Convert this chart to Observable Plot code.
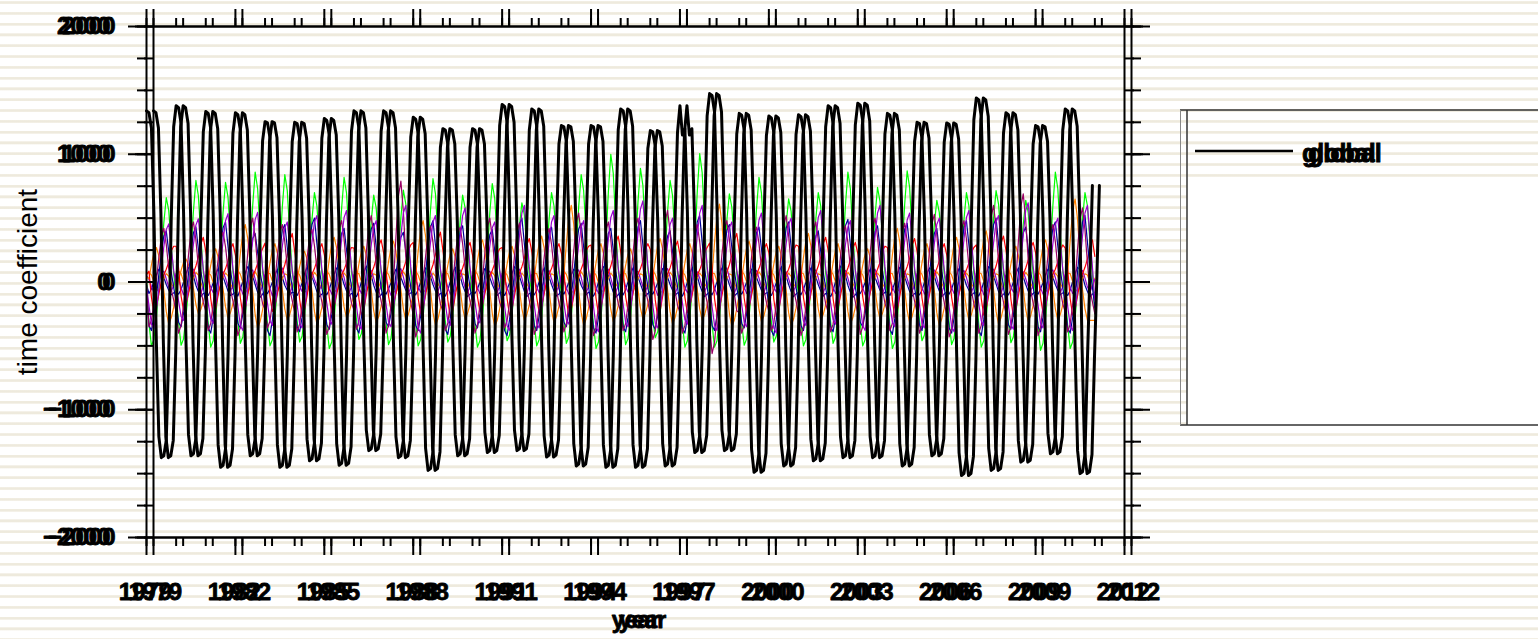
<!DOCTYPE html>
<html><head><meta charset="utf-8">
<script src="https://cdn.jsdelivr.net/npm/d3@7"></script>
<script src="https://cdn.jsdelivr.net/npm/@observablehq/plot@0.6"></script>
<style>
html,body{margin:0;padding:0;}
body{width:1538px;height:639px;overflow:hidden;position:relative;font-family:"Liberation Sans",Arial,sans-serif;
background:repeating-linear-gradient(to bottom,#fff 0px,#fff 1px,#f5f2ea 1px,#eeeadd 2px,#eeeadd 3.2px,#f5f2ea 4px,#fff 4.2px,#fff 10.8px);}
#legend{position:absolute;left:0;top:0;}
#chart{position:absolute;left:0;top:0;}
</style></head><body>
<svg id="legend" width="1538" height="639">
  <rect x="1187" y="177" width="351" height="248" fill="#fff"/>
  <line x1="1180" y1="110" x2="1538" y2="110" stroke="#333" stroke-width="1.5"/>
  <line x1="1180" y1="425" x2="1538" y2="425" stroke="#333" stroke-width="1.5"/>
  <line x1="1180.5" y1="110" x2="1180.5" y2="425" stroke="#888" stroke-width="1"/>
  <line x1="1187" y1="110" x2="1187" y2="425" stroke="#333" stroke-width="1.5"/>
  <line x1="1195" y1="151" x2="1293" y2="151" stroke="#000" stroke-width="2.5"/>
  <text x="1302" y="162" font-size="25" font-weight="bold" stroke="#000" stroke-width="0.8" font-family="Liberation Sans, Arial, sans-serif">global</text>
  <text x="1308" y="162" font-size="25" font-weight="bold" stroke="#000" stroke-width="0.8" font-family="Liberation Sans, Arial, sans-serif">global</text>
</svg>
<div id="chart"></div>
<script>
// ---- tick values ----
const xMajor = [1979,1982,1985,1988,1991,1994,1997,2000,2003,2006,2009,2012];
const xMinor = [1979,1980,1981,1982,1983,1984,1985,1986,1987,1988,1989,1990,1991,1992,1993,1994,1995,1996,1997,1998,1999,2000,2001,2002,2003,2004,2005,2006,2007,2008,2009,2010,2011,2012];
const yMajor = [-2000,-1000,0,1000,2000];
const yMinor = [-2000,-1750,-1500,-1250,-1000,-750,-500,-250,0,250,500,750,1000,1250,1500,1750,2000];

// ---- monthly series, one row per year (Jan..Dec), from Jan 1979 ----
const globalRows = [
[1340,1325,1205,535,-480,-1210,-1375,-1360,-1240,-550,485,1215],
[1380,1365,1240,550,-475,-1195,-1360,-1345,-1225,-545,465,1175],
[1335,1320,1200,535,-510,-1275,-1450,-1435,-1305,-580,465,1165],
[1325,1310,1190,530,-475,-1195,-1360,-1345,-1225,-545,440,1105],
[1255,1245,1130,500,-510,-1275,-1450,-1435,-1305,-580,440,1100],
[1250,1240,1125,500,-490,-1230,-1400,-1385,-1260,-560,450,1125],
[1280,1265,1150,510,-500,-1265,-1435,-1420,-1290,-575,470,1180],
[1340,1325,1205,535,-460,-1160,-1320,-1305,-1190,-530,470,1180],
[1340,1325,1205,535,-480,-1210,-1375,-1360,-1240,-550,450,1135],
[1290,1275,1160,515,-515,-1300,-1475,-1460,-1330,-590,420,1055],
[1200,1190,1080,480,-475,-1195,-1360,-1345,-1225,-545,420,1055],
[1200,1190,1080,480,-465,-1175,-1335,-1320,-1200,-535,485,1225],
[1390,1375,1250,555,-460,-1160,-1320,-1305,-1190,-530,475,1190],
[1355,1340,1220,540,-480,-1205,-1370,-1355,-1235,-550,430,1080],
[1225,1215,1100,490,-505,-1265,-1440,-1425,-1295,-575,430,1080],
[1225,1215,1100,490,-510,-1275,-1450,-1435,-1305,-580,475,1190],
[1355,1340,1220,540,-510,-1275,-1450,-1435,-1305,-580,415,1045],
[1185,1175,1065,475,-505,-1265,-1440,-1425,-1295,-575,485,1170],
[1380,1150,1200,550,-465,-1175,-1335,-1320,-1200,-535,515,1300],
[1475,1460,1330,590,-460,-1160,-1320,-1305,-1190,-530,460,1160],
[1320,1305,1190,530,-520,-1310,-1490,-1475,-1340,-595,455,1145],
[1300,1285,1170,520,-505,-1265,-1440,-1425,-1295,-575,460,1155],
[1310,1295,1180,525,-490,-1230,-1400,-1385,-1260,-560,485,1215],
[1380,1365,1240,550,-480,-1210,-1375,-1360,-1240,-550,490,1230],
[1400,1385,1260,560,-480,-1210,-1375,-1360,-1240,-550,460,1160],
[1320,1305,1190,530,-505,-1265,-1440,-1425,-1295,-575,440,1100],
[1250,1240,1125,500,-475,-1195,-1360,-1345,-1225,-545,435,1095],
[1245,1235,1120,500,-530,-1335,-1515,-1500,-1365,-605,505,1270],
[1440,1425,1295,575,-515,-1300,-1475,-1460,-1330,-590,465,1165],
[1325,1310,1190,530,-495,-1240,-1410,-1395,-1270,-565,430,1080],
[1225,1215,1100,490,-470,-1185,-1345,-1330,-1210,-540,475,1190],
[1355,1340,1220,540,-525,-1320,-1500,-1485,-1350,-600,60,755]
];

const greenRows = [
[30,-325,-500,-450,-275,-50,200,460,660,560,295,65],
[-100,-320,-495,-445,-270,-50,240,555,795,675,360,80],
[-100,-330,-510,-460,-280,-50,235,545,780,665,350,80],
[-95,-310,-480,-430,-265,-50,260,600,860,730,385,85],
[-100,-325,-500,-450,-275,-50,250,590,840,715,380,85],
[-95,-305,-470,-425,-260,-45,210,490,700,595,315,70],
[-105,-340,-520,-470,-285,-50,245,575,820,695,370,80],
[-90,-290,-450,-405,-250,-45,205,475,680,580,305,70],
[-100,-320,-490,-440,-270,-50,215,505,720,610,325,70],
[-100,-325,-500,-450,-275,-50,245,565,810,690,365,80],
[-95,-305,-470,-425,-260,-45,205,475,680,580,305,70],
[-100,-330,-510,-460,-280,-50,230,540,770,655,345,75],
[-90,-300,-460,-415,-255,-45,185,435,620,525,280,60],
[-100,-325,-500,-450,-275,-50,210,490,700,595,315,70],
[-95,-310,-480,-430,-265,-50,250,590,840,715,380,85],
[-105,-340,-520,-470,-285,-50,300,700,1000,850,450,100],
[-100,-320,-490,-440,-270,-50,265,625,890,755,400,90],
[-85,-285,-435,-390,-240,-45,240,555,795,675,360,80],
[-100,-330,-510,-460,-280,-50,300,705,1005,855,450,100],
[-100,-330,-510,-460,-280,-50,205,485,690,585,310,70],
[-100,-320,-495,-445,-270,-50,245,575,820,695,370,80],
[-95,-305,-470,-425,-260,-45,195,455,650,555,290,65],
[-100,-325,-500,-450,-275,-50,210,490,700,595,315,70],
[-95,-310,-480,-430,-265,-50,260,600,860,730,385,85],
[-100,-325,-500,-450,-275,-50,220,520,740,630,335,75],
[-105,-340,-520,-470,-285,-50,260,610,870,740,390,85],
[-90,-300,-460,-415,-255,-45,190,450,640,545,290,65],
[-100,-320,-490,-440,-270,-50,210,490,700,595,315,70],
[-100,-330,-510,-460,-280,-50,215,500,715,610,320,70],
[-95,-310,-475,-430,-260,-50,190,450,640,545,290,65],
[-105,-350,-535,-480,-295,-55,260,600,860,730,385,85],
[-105,-340,-520,-470,-285,-50,210,490,700,595,315,70]
];
const greenEnd = -250;

const violetRows = [
[-35,-185,-330,-365,-220,-55,115,275,410,455,275,90],
[-30,-150,-270,-300,-180,-45,125,295,445,495,295,100],
[-35,-165,-290,-325,-195,-50,135,320,480,535,320,105],
[-40,-190,-340,-380,-230,-55,135,325,490,545,325,110],
[-35,-170,-305,-340,-205,-50,120,280,425,470,280,95],
[-35,-180,-325,-360,-215,-55,130,310,470,520,310,105],
[-35,-165,-295,-330,-200,-50,140,335,505,560,335,110],
[-35,-185,-335,-370,-220,-55,120,290,430,480,290,95],
[-35,-175,-315,-350,-210,-55,150,360,540,600,360,120],
[-40,-200,-360,-400,-240,-60,130,310,470,520,310,105],
[-35,-170,-305,-340,-205,-50,145,350,520,580,350,115],
[-30,-160,-290,-320,-190,-50,120,280,425,470,280,95],
[-40,-190,-340,-380,-230,-55,150,360,540,600,360,120],
[-35,-180,-325,-360,-215,-55,130,310,470,520,310,105],
[-35,-165,-295,-330,-200,-50,120,290,430,480,290,95],
[-40,-195,-350,-390,-235,-60,140,335,505,560,335,110],
[-35,-175,-315,-350,-210,-55,160,380,570,635,380,125],
[-35,-180,-325,-360,-215,-55,125,300,450,500,300,100],
[-35,-165,-295,-330,-200,-50,150,360,540,600,360,120],
[-40,-190,-340,-380,-230,-55,120,280,425,470,280,95],
[-35,-175,-315,-350,-210,-55,135,325,485,540,325,110],
[-40,-200,-360,-400,-240,-60,125,300,450,500,300,100],
[-35,-170,-305,-340,-205,-50,140,335,505,560,335,110],
[-35,-165,-295,-330,-200,-50,120,290,430,480,290,95],
[-40,-190,-340,-380,-230,-55,150,360,540,600,360,120],
[-35,-175,-315,-350,-210,-55,135,325,485,540,325,110],
[-35,-180,-325,-360,-215,-55,125,300,450,500,300,100],
[-40,-195,-350,-390,-235,-60,140,335,505,560,335,110],
[-35,-170,-305,-340,-205,-50,130,310,470,520,310,105],
[-35,-185,-335,-370,-220,-55,155,370,560,620,370,125],
[-35,-180,-325,-360,-215,-55,125,300,450,500,300,100],
[-40,-190,-340,-380,-230,-55,150,360,540,600,360,120]
];
const violetEnd = -150;

const navyRows = [
[-60,-340,-380,-265,-115,60,220,360,400,240,80,-40],
[-160,-315,-350,-245,-105,65,235,385,430,260,85,-35],
[-180,-360,-400,-280,-120,70,260,425,470,280,95,-40],
[-160,-325,-360,-250,-110,55,210,340,380,230,75,-35],
[-190,-380,-420,-295,-125,70,250,405,450,270,90,-40],
[-175,-350,-390,-275,-115,75,275,450,500,300,100,-40],
[-165,-335,-370,-260,-110,65,230,380,420,250,85,-35],
[-180,-360,-400,-280,-120,70,255,415,460,275,90,-40],
[-160,-315,-350,-245,-105,60,215,350,390,235,80,-35],
[-170,-340,-380,-265,-115,70,265,430,480,290,95,-40],
[-185,-370,-410,-285,-125,65,240,395,440,265,90,-40],
[-160,-325,-360,-250,-110,60,225,370,410,245,80,-35],
[-190,-380,-420,-295,-125,75,275,450,500,300,100,-40],
[-170,-340,-380,-265,-115,65,235,385,430,260,85,-40],
[-160,-315,-350,-245,-105,70,255,415,460,275,90,-35],
[-180,-360,-400,-280,-120,65,230,380,420,250,85,-40],
[-175,-350,-390,-275,-115,70,265,430,480,290,95,-40],
[-165,-335,-370,-260,-110,60,220,360,400,240,80,-35],
[-180,-360,-400,-280,-120,80,285,470,520,310,105,-40],
[-170,-340,-380,-265,-115,70,250,405,450,270,90,-40],
[-160,-325,-360,-250,-110,65,235,385,430,260,85,-35],
[-190,-380,-420,-295,-125,70,260,425,470,280,95,-40],
[-170,-340,-380,-265,-115,60,220,360,400,240,80,-40],
[-175,-350,-390,-275,-115,75,270,440,490,295,100,-40],
[-160,-315,-350,-245,-105,65,240,395,440,265,90,-35],
[-185,-370,-410,-285,-125,70,255,415,460,275,90,-40],
[-170,-340,-380,-265,-115,65,230,380,420,250,85,-40],
[-180,-360,-400,-280,-120,70,265,430,480,290,95,-40],
[-190,-380,-420,-295,-125,75,275,450,500,300,100,-40],
[-165,-335,-370,-260,-110,65,235,385,430,260,85,-35],
[-175,-350,-390,-275,-115,70,260,425,470,280,95,-40],
[-180,-360,-400,-280,-120,80,285,470,520,310,105,-40]
];
const navyEnd = -200;

const magentaRows = [
[-20,-350,-300,-160,10,190,355,420,295,105,-55,-140],
[-240,-400,-340,-180,-10,210,400,470,330,120,-60,-160],
[-230,-380,-325,-170,15,175,330,390,275,100,-55,-150],
[-250,-420,-355,-190,-5,225,425,500,350,125,-65,-170],
[-215,-360,-305,-160,10,205,385,450,315,115,-55,-145],
[-235,-390,-330,-175,-15,185,350,410,285,105,-60,-155],
[-245,-410,-350,-185,5,215,410,480,335,120,-60,-165],
[-220,-370,-315,-165,10,235,440,520,365,130,-55,-150],
[-240,-400,-340,-180,-10,355,670,790,555,200,-60,-160],
[-260,-430,-365,-195,15,200,375,440,310,110,-65,-170],
[-230,-380,-325,-170,-5,195,365,430,300,110,-55,-150],
[-240,-400,-340,-180,10,225,425,500,350,125,-60,-160],
[-215,-360,-305,-160,-10,205,390,460,320,115,-55,-145],
[-245,-410,-350,-185,5,190,355,420,295,105,-60,-165],
[-235,-390,-330,-175,15,245,460,540,380,135,-60,-155],
[-250,-420,-355,-190,-5,210,400,470,330,120,-65,-170],
[-230,-380,-325,-170,10,225,425,500,350,125,-55,-150],
[-270,-450,-385,-205,-10,250,475,560,390,140,-70,-180],
[-240,-400,-340,-180,5,205,385,450,315,115,-60,-160],
[-335,-560,-475,-250,-15,215,410,480,335,120,-85,-225],
[-240,-400,-340,-180,10,195,365,430,300,110,-60,-160],
[-230,-380,-325,-170,-5,235,440,520,365,130,-55,-150],
[-250,-420,-355,-190,10,210,400,470,330,120,-65,-170],
[-235,-390,-330,-175,-10,200,375,440,310,110,-60,-155],
[-245,-410,-350,-185,5,225,425,500,350,125,-60,-165],
[-230,-380,-325,-170,15,205,390,460,320,115,-55,-150],
[-240,-400,-340,-180,-5,240,450,530,370,135,-60,-160],
[-260,-430,-365,-195,10,215,410,480,335,120,-65,-170],
[-240,-400,-340,-180,-10,270,510,600,420,150,-60,-160],
[-245,-410,-350,-185,5,310,585,690,485,175,-60,-165],
[-250,-420,-355,-190,10,205,385,450,315,115,-65,-170],
[-235,-390,-330,-175,-5,260,495,580,405,145,-60,-155]
];
const magentaEnd = -250;

const redRows = [
[60,85,-120,-240,-190,-95,5,55,100,155,240,280],
[280,105,-110,-220,-175,-90,10,70,125,195,300,350],
[240,90,-130,-260,-210,-105,-10,60,105,165,255,300],
[210,80,-125,-250,-200,-100,15,50,90,145,220,260],
[305,115,-115,-230,-185,-90,-5,75,135,210,325,380],
[240,90,-135,-270,-215,-110,5,60,105,165,255,300],
[215,80,-120,-240,-190,-95,-10,55,95,150,230,270],
[265,100,-130,-260,-210,-105,10,65,115,180,280,330],
[230,85,-110,-220,-175,-90,-5,60,100,160,245,290],
[310,115,-125,-250,-200,-100,10,80,135,215,330,390],
[250,95,-140,-280,-225,-110,-5,60,110,170,265,310],
[210,80,-115,-230,-185,-90,10,50,90,145,220,260],
[270,100,-130,-260,-210,-105,-5,70,120,185,290,340],
[240,90,-120,-240,-190,-95,10,60,105,165,255,300],
[225,85,-135,-270,-215,-110,-10,55,100,155,240,280],
[290,110,-125,-250,-200,-100,5,70,125,200,305,360],
[240,90,-115,-230,-185,-90,10,60,105,165,255,300],
[255,95,-140,-280,-225,-110,-5,65,110,175,270,320],
[215,80,-120,-240,-190,-95,10,55,95,150,230,270],
[305,115,-130,-260,-210,-105,-10,75,135,210,325,380],
[240,90,-125,-250,-200,-100,5,60,105,165,255,300],
[230,85,-135,-270,-215,-110,-5,60,100,160,245,290],
[280,105,-120,-240,-190,-95,10,70,125,195,300,350],
[250,95,-130,-260,-210,-105,-10,60,110,170,265,310],
[225,85,-115,-230,-185,-90,5,55,100,155,240,280],
[270,100,-140,-280,-225,-110,-5,70,120,185,290,340],
[240,90,-125,-250,-200,-100,10,60,105,165,255,300],
[215,80,-120,-240,-190,-95,-10,55,95,150,230,270],
[290,110,-130,-260,-210,-105,5,70,125,200,305,360],
[250,95,-135,-270,-215,-110,-5,60,110,170,265,310],
[230,85,-120,-240,-190,-95,10,60,100,160,245,290],
[265,100,-130,-260,-210,-105,-5,65,115,180,280,330]
];
const redEnd = 200;

const orangeRows = [
[40,25,135,230,270,205,80,-65,-230,-330,-280,-200],
[-75,20,90,155,180,135,55,-50,-175,-250,-215,-150],
[-85,25,130,220,260,195,80,-55,-195,-280,-240,-170],
[-110,45,225,385,450,340,135,-75,-255,-365,-310,-220],
[-90,30,150,255,300,225,90,-60,-210,-300,-255,-180],
[-100,25,120,205,240,180,70,-65,-230,-330,-280,-200],
[-85,35,175,300,350,265,105,-55,-195,-280,-240,-170],
[-95,30,140,240,280,210,85,-65,-225,-320,-270,-190],
[-90,30,160,270,320,240,95,-60,-210,-300,-255,-180],
[-100,50,240,410,480,360,145,-70,-240,-340,-290,-205],
[-85,25,130,220,260,195,80,-60,-205,-290,-245,-175],
[-105,35,165,280,330,250,100,-70,-245,-350,-300,-210],
[-90,30,140,240,280,210,85,-60,-210,-300,-255,-180],
[-95,35,180,305,360,270,110,-65,-225,-320,-270,-190],
[-100,60,300,510,600,450,180,-70,-240,-340,-290,-205],
[-95,30,150,255,300,225,90,-60,-215,-310,-265,-185],
[-85,25,130,220,260,195,80,-60,-205,-290,-245,-175],
[-100,35,170,290,340,255,100,-65,-230,-330,-280,-200],
[-90,30,150,255,300,225,90,-60,-210,-300,-255,-180],
[-105,60,305,520,610,460,185,-70,-245,-350,-300,-210],
[-95,30,160,270,320,240,95,-60,-215,-310,-265,-185],
[-100,30,140,240,280,210,85,-70,-240,-340,-290,-205],
[-90,40,190,325,380,285,115,-60,-210,-300,-255,-180],
[-100,30,150,255,300,225,90,-65,-230,-330,-280,-200],
[-85,25,130,220,260,195,80,-60,-205,-290,-245,-175],
[-95,40,210,355,420,315,125,-65,-225,-320,-270,-190],
[-100,30,150,255,300,225,90,-70,-240,-340,-290,-205],
[-90,35,175,300,350,265,105,-60,-210,-300,-255,-180],
[-100,40,200,340,400,300,120,-65,-230,-330,-280,-200],
[-95,30,140,240,280,210,85,-60,-215,-310,-265,-185],
[-90,35,165,280,330,250,100,-60,-210,-300,-255,-180],
[-90,65,325,555,650,490,195,-60,-210,-300,-300,-300]
];
const orangeEnd = -300;

const violetSmallRows = [
[50,20,-35,-80,-45,15,65,85,25,-40,-75,-25],
[70,25,-45,-100,-55,5,80,100,35,-45,-90,-35],
[55,15,-40,-85,-50,10,60,80,30,-35,-70,-30],
[65,30,-35,-95,-60,15,75,95,25,-45,-85,-25],
[60,20,-50,-110,-55,0,70,110,40,-40,-95,-40],
[45,15,-30,-75,-40,10,55,75,20,-30,-65,-20],
[70,25,-45,-95,-50,20,80,95,35,-50,-90,-35],
[60,20,-40,-90,-45,10,65,90,30,-40,-80,-30],
[75,30,-50,-105,-60,5,85,105,40,-45,-95,-40],
[55,15,-35,-80,-45,15,60,80,25,-35,-70,-25],
[65,25,-40,-95,-55,10,75,95,30,-45,-85,-30],
[50,20,-45,-90,-50,5,70,85,35,-40,-80,-35],
[70,20,-40,-100,-55,15,75,100,30,-45,-90,-30],
[60,25,-35,-85,-45,10,65,90,25,-35,-75,-25],
[55,15,-45,-95,-60,5,70,95,35,-45,-85,-35],
[65,20,-40,-90,-50,10,80,100,30,-40,-80,-30],
[60,30,-35,-80,-45,15,65,85,25,-35,-75,-25],
[70,20,-50,-105,-55,5,75,105,40,-50,-95,-40],
[55,15,-40,-85,-50,10,60,80,30,-40,-75,-30],
[75,25,-45,-100,-60,15,85,110,35,-45,-90,-35],
[60,20,-40,-90,-50,10,70,90,30,-40,-80,-30],
[50,15,-35,-80,-45,5,60,80,25,-35,-70,-25],
[65,25,-45,-95,-55,15,75,95,35,-45,-85,-35],
[60,20,-40,-90,-50,10,70,90,30,-40,-80,-30],
[70,30,-45,-100,-55,5,80,100,35,-50,-90,-35],
[55,15,-35,-85,-45,15,65,85,25,-35,-75,-25],
[65,20,-40,-95,-50,10,70,95,30,-45,-85,-30],
[60,25,-45,-90,-55,5,75,90,35,-40,-80,-35],
[70,20,-40,-100,-50,15,80,100,30,-45,-90,-30],
[55,15,-35,-80,-45,10,60,80,25,-35,-70,-25],
[65,25,-45,-95,-55,10,75,95,35,-45,-85,-35],
[60,20,-40,-90,-50,10,70,90,30,-40,-80,-30]
];
const violetSmallEnd = 20;

const navySmallRows = [
[-20,-90,-55,5,55,100,85,35,-20,-65,-100,-85],
[-75,-95,-60,0,65,115,95,45,-25,-75,-115,-90],
[-85,-105,-65,-5,60,105,85,40,-15,-70,-105,-95],
[-80,-110,-55,5,70,120,100,45,-20,-80,-120,-95],
[-70,-90,-50,0,55,100,80,35,-25,-65,-100,-80],
[-85,-105,-65,-5,65,115,95,40,-15,-75,-115,-95],
[-80,-100,-60,5,60,110,90,45,-20,-70,-110,-90],
[-90,-115,-70,0,70,125,100,50,-25,-80,-120,-100],
[-75,-95,-55,-5,55,100,85,35,-15,-65,-100,-85],
[-80,-100,-60,0,60,110,90,40,-20,-70,-110,-90],
[-85,-110,-65,5,65,115,95,45,-25,-75,-115,-95],
[-75,-90,-55,0,55,105,85,35,-20,-65,-105,-85],
[-80,-105,-60,-5,65,120,95,45,-15,-75,-115,-90],
[-85,-100,-65,5,60,110,90,40,-20,-70,-110,-95],
[-70,-95,-55,0,55,100,80,35,-25,-65,-100,-80],
[-90,-110,-70,0,70,120,100,50,-20,-80,-120,-100],
[-80,-100,-60,5,60,110,90,40,-15,-70,-110,-90],
[-75,-95,-55,-5,55,105,85,35,-20,-65,-105,-85],
[-85,-110,-65,0,65,115,95,45,-25,-75,-115,-95],
[-80,-100,-60,5,60,110,90,40,-20,-70,-110,-90],
[-75,-95,-55,0,55,100,85,35,-15,-65,-100,-85],
[-85,-105,-65,-5,65,120,95,45,-20,-75,-115,-95],
[-80,-100,-60,0,60,110,90,40,-20,-70,-110,-90],
[-90,-115,-70,5,70,125,100,50,-25,-80,-120,-100],
[-75,-90,-55,0,55,100,80,35,-15,-65,-100,-80],
[-80,-105,-60,-5,60,115,95,40,-20,-75,-110,-90],
[-85,-100,-65,0,65,110,90,45,-20,-70,-115,-95],
[-75,-95,-55,5,55,105,85,35,-25,-65,-105,-85],
[-85,-110,-65,0,65,120,100,45,-15,-75,-115,-95],
[-80,-100,-60,0,60,110,90,40,-20,-70,-110,-90],
[-75,-95,-55,-5,55,100,85,35,-20,-65,-100,-85],
[-85,-105,-65,5,65,115,95,45,-25,-75,-115,-95]
];
const navySmallEnd = -80;

const orangeSmallRows = [
[60,75,55,0,-55,-75,-30,25,65,45,-10,-45],
[45,85,65,5,-60,-85,-35,30,75,55,-5,-55],
[35,70,55,-5,-65,-80,-25,35,70,50,-15,-50],
[40,90,60,0,-55,-90,-30,30,80,45,-10,-45],
[45,75,65,5,-60,-75,-35,25,65,55,-5,-55],
[35,80,55,-5,-70,-85,-30,35,75,50,-15,-50],
[40,85,60,0,-60,-80,-25,30,70,45,-10,-45],
[45,70,65,5,-55,-75,-35,25,65,55,-5,-55],
[40,80,60,0,-65,-90,-30,35,80,50,-10,-50],
[35,85,55,-5,-60,-80,-25,30,70,45,-15,-45],
[45,75,65,5,-55,-75,-35,25,65,55,-5,-55],
[40,90,60,0,-70,-85,-30,35,75,50,-10,-50],
[35,80,55,-5,-60,-80,-25,30,70,45,-15,-45],
[45,70,65,5,-55,-75,-35,25,65,55,-5,-55],
[40,85,60,0,-65,-90,-30,35,80,50,-10,-50],
[35,80,55,-5,-60,-80,-25,30,70,45,-15,-45],
[45,75,65,5,-55,-75,-35,25,65,55,-5,-55],
[40,90,60,0,-70,-85,-30,35,75,50,-10,-50],
[35,80,55,-5,-60,-80,-25,30,70,45,-15,-45],
[45,70,65,5,-55,-75,-35,25,65,55,-5,-55],
[40,85,60,0,-65,-90,-30,35,80,50,-10,-50],
[35,80,55,-5,-60,-80,-25,30,70,45,-15,-45],
[45,75,65,5,-55,-75,-35,25,65,55,-5,-55],
[40,90,60,0,-70,-85,-30,35,75,50,-10,-50],
[35,80,55,-5,-60,-80,-25,30,70,45,-15,-45],
[45,70,65,5,-55,-75,-35,25,65,55,-5,-55],
[40,85,60,0,-65,-90,-30,35,80,50,-10,-50],
[35,80,55,-5,-60,-80,-25,30,70,45,-15,-45],
[45,75,65,5,-55,-75,-35,25,65,55,-5,-55],
[40,90,60,0,-70,-85,-30,35,75,50,-10,-50],
[35,80,55,-5,-60,-80,-25,30,70,45,-15,-45],
[45,70,65,5,-55,-75,-35,25,65,55,-5,-55]
];
const orangeSmallEnd = 30;

// ---- build tables ----
function toData(rows, last) {
  const vals = rows.flat();
  if (last !== undefined) vals.push(last);
  return vals.map((v, i) => ({t: 1979 + i / 12, v}));
}
const globalData = toData(globalRows);
const coloredSeries = [
  {data: toData(navySmallRows, navySmallEnd), color: "#000099"},
  {data: toData(orangeSmallRows, orangeSmallEnd), color: "#ff8000"},
  {data: toData(violetSmallRows, violetSmallEnd), color: "#9900cc"},
  {data: toData(greenRows, greenEnd), color: "#00ff00"},
  {data: toData(orangeRows, orangeEnd), color: "#ff8000"},
  {data: toData(redRows, redEnd), color: "#ff0000"},
  {data: toData(navyRows, navyEnd), color: "#000099"},
  {data: toData(magentaRows, magentaEnd), color: "#990066"},
  {data: toData(violetRows, violetEnd), color: "#9900cc"}
];

const fmtY = d => d < 0 ? "\u2212" + (-d) : String(d);
const ghost = 7;
const ax = {stroke: "#000", strokeWidth: 2, fill: "none", label: null};
const heavy = {fontWeight: "bold", fill: "#000", stroke: "#000", strokeWidth: 0.8};

const axisMarks = [0, ghost].flatMap(dx => [
  Plot.frame({stroke: "#000", strokeWidth: 2, dx}),
  Plot.axisY(yMinor, {...ax, anchor: "left", tickSize: 9, dx}),
  Plot.axisY(yMajor, {...ax, anchor: "left", tickSize: 18, dx}),
  Plot.axisY(yMinor, {...ax, anchor: "right", tickSize: 9, dx}),
  Plot.axisY(yMajor, {...ax, anchor: "right", tickSize: 18, dx}),
  Plot.axisX(xMinor, {...ax, anchor: "top", tickSize: 9, dx}),
  Plot.axisX(xMajor, {...ax, anchor: "top", tickSize: 18, dx}),
  Plot.axisX(xMinor, {...ax, anchor: "bottom", tickSize: 9, dx}),
  Plot.axisX(xMajor, {...ax, anchor: "bottom", tickSize: 18, dx})
]);

const labelMarks = [
  ...[0, 5].map(dx => Plot.text(yMajor, {y: d => d, text: fmtY, frameAnchor: "left", textAnchor: "end", dx: dx - 36, fontSize: 24, ...heavy})),
  ...[-1, 9].map(dx => Plot.text(xMajor, {x: d => d, text: d => String(d), frameAnchor: "bottom", lineAnchor: "top", dy: 45, dx, fontSize: 24, ...heavy})),
  ...[0, 7].map(dx => Plot.text(["year"], {text: d => d, frameAnchor: "bottom", dy: 90, dx: dx, fontSize: 23, ...heavy})),
  Plot.text(["time coefficient"], {text: d => d, frameAnchor: "left", textAnchor: "middle", dx: -118, rotate: -90, fontSize: 28, fill: "#000"})
];

const chart = Plot.plot({
  width: 1538,
  height: 639,
  marginLeft: 146,
  marginRight: 414,
  marginTop: 26,
  marginBottom: 102,
  x: {domain: [1979, 2012]},
  y: {domain: [-2000, 2000]},
  style: {background: "transparent", fontFamily: "Liberation Sans, Arial, sans-serif", overflow: "visible", color: "#000"},
  marks: [
    ...coloredSeries.map(s => Plot.line(s.data, {x: "t", y: "v", stroke: s.color, strokeWidth: 1.2})),
    Plot.line(globalData, {x: "t", y: "v", stroke: "#000", strokeWidth: 3}),
    Plot.line(globalData, {x: "t", y: "v", stroke: "#000", strokeWidth: 3, dx: ghost}),
    ...axisMarks,
    ...labelMarks
  ]
});
document.getElementById("chart").appendChild(chart);
</script>
</body></html>
